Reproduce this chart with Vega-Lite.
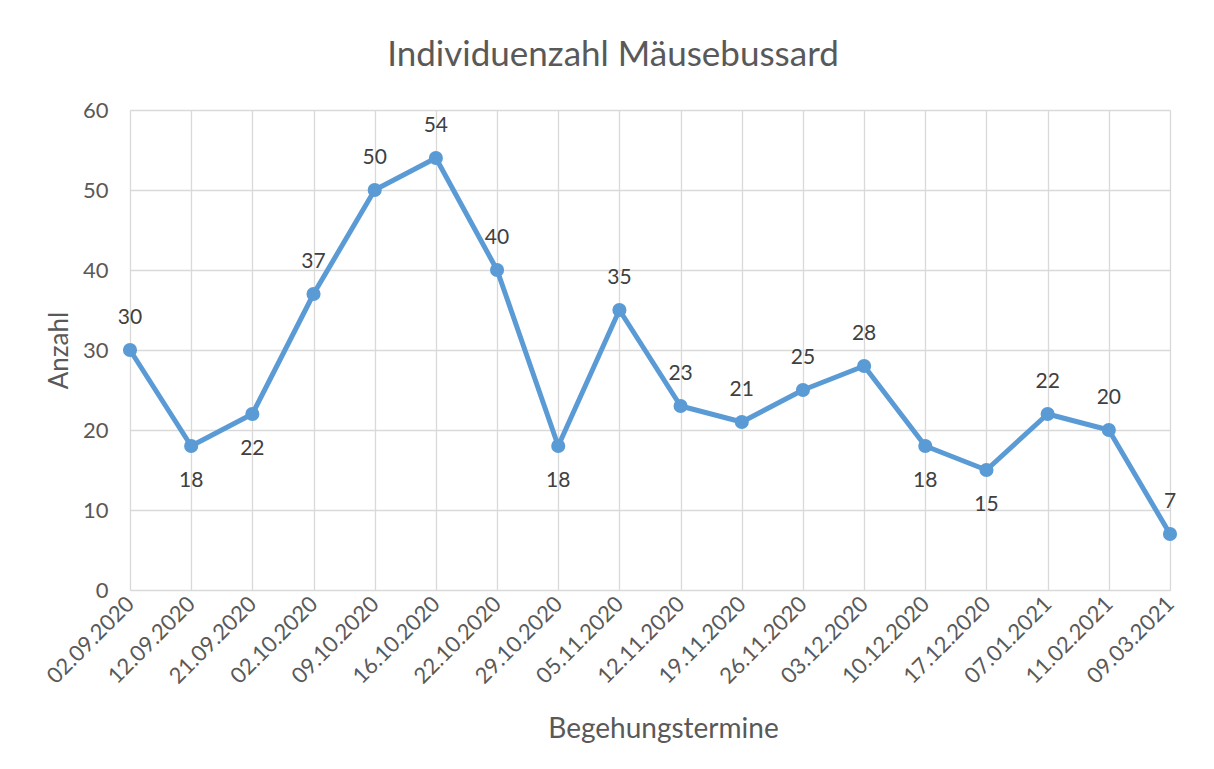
{
  "$schema": "https://vega.github.io/schema/vega-lite/v6.json",
  "autosize": "none",
  "padding": {"left": 130, "top": 110, "right": 44, "bottom": 179},
  "width": 1040,
  "height": 480,
  "background": "white",
  "title": {
    "text": "Individuenzahl Mäusebussard",
    "font": "Lato",
    "fontSize": 35,
    "fontWeight": "normal",
    "color": "#595959",
    "offset": 26,
    "dx": -37,
    "anchor": "middle"
  },
  "config": {
    "view": {"stroke": null},
    "font": "Lato"
  },
  "data": {
    "values": [
      {"datum": "02.09.2020", "anzahl": 30, "beschriftung": "oben"},
      {"datum": "12.09.2020", "anzahl": 18, "beschriftung": "unten"},
      {"datum": "21.09.2020", "anzahl": 22, "beschriftung": "unten"},
      {"datum": "02.10.2020", "anzahl": 37, "beschriftung": "oben"},
      {"datum": "09.10.2020", "anzahl": 50, "beschriftung": "oben"},
      {"datum": "16.10.2020", "anzahl": 54, "beschriftung": "oben"},
      {"datum": "22.10.2020", "anzahl": 40, "beschriftung": "oben"},
      {"datum": "29.10.2020", "anzahl": 18, "beschriftung": "unten"},
      {"datum": "05.11.2020", "anzahl": 35, "beschriftung": "oben"},
      {"datum": "12.11.2020", "anzahl": 23, "beschriftung": "oben"},
      {"datum": "19.11.2020", "anzahl": 21, "beschriftung": "oben"},
      {"datum": "26.11.2020", "anzahl": 25, "beschriftung": "oben"},
      {"datum": "03.12.2020", "anzahl": 28, "beschriftung": "oben"},
      {"datum": "10.12.2020", "anzahl": 18, "beschriftung": "unten"},
      {"datum": "17.12.2020", "anzahl": 15, "beschriftung": "unten"},
      {"datum": "07.01.2021", "anzahl": 22, "beschriftung": "oben"},
      {"datum": "11.02.2021", "anzahl": 20, "beschriftung": "oben"},
      {"datum": "09.03.2021", "anzahl": 7, "beschriftung": "oben"}
    ]
  },
  "encoding": {
    "x": {
      "field": "datum",
      "type": "ordinal",
      "sort": null,
      "scale": {"type": "point", "padding": 0},
      "axis": {
        "title": "Begehungstermine",
        "titleFont": "Lato",
        "titleFontSize": 28,
        "titleFontWeight": "normal",
        "titleColor": "#595959",
        "titlePadding": 28,
        "titleX": 533,
        "labelAngle": -45,
        "labelAlign": "right",
        "labelBaseline": "middle",
        "labelFont": "Lato",
        "labelFontSize": 22,
        "labelColor": "#595959",
        "labelPadding": 10,
        "ticks": false,
        "domain": true,
        "domainColor": "#d9d9d9",
        "grid": true,
        "gridColor": "#d9d9d9",
        "gridWidth": 1.3
      }
    },
    "y": {
      "field": "anzahl",
      "type": "quantitative",
      "scale": {"domain": [0, 60], "nice": false},
      "axis": {
        "title": "Anzahl",
        "titleFont": "Lato",
        "titleFontSize": 26,
        "titleFontWeight": "normal",
        "titleColor": "#595959",
        "titlePadding": 10,
        "values": [0, 10, 20, 30, 40, 50, 60],
        "labelFont": "Lato",
        "labelFontSize": 22,
        "labelColor": "#595959",
        "labelPadding": 22,
        "ticks": false,
        "domain": false,
        "grid": true,
        "gridColor": "#d9d9d9",
        "gridWidth": 1.3
      }
    }
  },
  "layer": [
    {
      "mark": {"type": "line", "color": "#5b9bd5", "strokeWidth": 5, "strokeJoin": "round", "point": {"filled": true, "size": 200, "color": "#5b9bd5", "opacity": 1}}
    },
    {
      "transform": [{"filter": "datum.beschriftung === 'oben'"}],
      "mark": {"type": "text", "dy": -32, "fontSize": 21, "font": "Lato", "color": "#404040", "baseline": "middle"},
      "encoding": {"text": {"field": "anzahl", "type": "quantitative"}}
    },
    {
      "transform": [{"filter": "datum.beschriftung === 'unten'"}],
      "mark": {"type": "text", "dy": 35, "fontSize": 21, "font": "Lato", "color": "#404040", "baseline": "middle"},
      "encoding": {"text": {"field": "anzahl", "type": "quantitative"}}
    }
  ]
}
